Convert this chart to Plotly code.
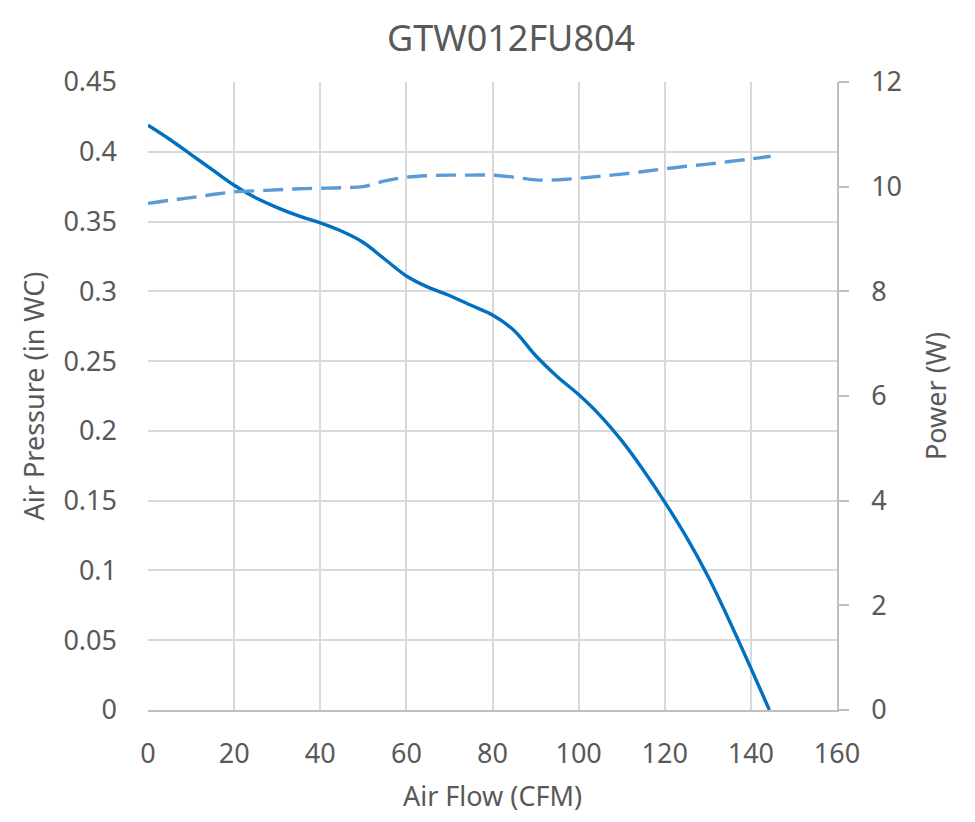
import plotly.graph_objects as go

title = "GTW012FU804"
flow_p = [0, 5, 10, 15, 20, 25, 30, 35, 40, 45, 50, 55, 60, 65, 70, 75, 80, 85, 90, 95, 100,
          105, 110, 115, 120, 125, 130, 135, 140, 144.3]
pressure = [0.419, 0.409, 0.398, 0.387, 0.376, 0.367, 0.360, 0.354, 0.349, 0.343, 0.335, 0.323,
            0.311, 0.303, 0.297, 0.290, 0.283, 0.272, 0.254, 0.239, 0.226, 0.211, 0.193, 0.172,
            0.149, 0.124, 0.096, 0.064, 0.030, 0.0]
flow_w = [0, 5, 10, 15, 20, 25, 30, 35, 40, 45, 50, 55, 60, 65, 70, 75, 80, 85, 90, 95, 100,
          105, 110, 115, 120, 125, 130, 135, 140, 144.6]
power = [9.68, 9.74, 9.79, 9.85, 9.90, 9.92, 9.94, 9.96, 9.97, 9.98, 10.00, 10.11, 10.18, 10.21,
         10.22, 10.22, 10.22, 10.18, 10.13, 10.13, 10.16, 10.20, 10.24, 10.29, 10.34, 10.39,
         10.43, 10.48, 10.53, 10.58]

x_ticks = [0, 20, 40, 60, 80, 100, 120, 140, 160]
p_ticks = [0, 0.05, 0.1, 0.15, 0.2, 0.25, 0.3, 0.35, 0.4, 0.45]
p_labels = ["0", "0.05", "0.1", "0.15", "0.2", "0.25", "0.3", "0.35", "0.4", "0.45"]
w_ticks = [0, 2, 4, 6, 8, 10, 12]

FONT = "Noto Sans, sans-serif"
TXT = "#595959"
GRID = "#d9d9d9"
TICK_SIZE = 27
AX_TITLE = 27

fig = go.Figure()
fig.add_trace(go.Scatter(x=flow_p, y=pressure, mode="lines",
                         line=dict(color="#0070c0", width=3.4, shape="spline"),
                         name="Air Pressure", yaxis="y"))
fig.add_trace(go.Scatter(x=flow_w, y=power, mode="lines",
                         line=dict(color="#5b9bd5", width=3.4, shape="spline", dash="20px,9px"),
                         name="Power", yaxis="y2"))

fig.update_layout(
    width=975, height=822,
    margin=dict(l=140, r=146, t=74, b=120),
    paper_bgcolor="white", plot_bgcolor="white",
    showlegend=False,
    font=dict(family=FONT, color=TXT, size=TICK_SIZE),
    title=dict(text=title, xref="container", x=0.516, xanchor="center", y=0.9635, yanchor="middle",
               font=dict(size=36, color=TXT, family=FONT)),
    xaxis=dict(range=[0, 160], tickvals=x_ticks, showgrid=True, gridcolor=GRID, gridwidth=1.5,
               showline=True, linecolor="#bfbfbf", linewidth=1.5, zeroline=False,
               ticks="", ticklabelstandoff=19, tickfont=dict(size=TICK_SIZE, color=TXT),
               title=dict(text="Air Flow (CFM)", font=dict(size=AX_TITLE, color=TXT), standoff=17)),
    yaxis=dict(range=[0, 0.45], tickvals=p_ticks, ticktext=p_labels, showgrid=True, gridcolor=GRID,
               gridwidth=1.5, showline=False, zeroline=False, ticks="", ticklabelstandoff=30,
               tickfont=dict(size=TICK_SIZE, color=TXT),
               title=dict(text="Air Pressure (in WC)", font=dict(size=AX_TITLE, color=TXT), standoff=10)),
    yaxis2=dict(range=[0, 12], tickvals=w_ticks, overlaying="y", side="right", showgrid=False,
                showline=True, linecolor="#bfbfbf", linewidth=1.5, zeroline=False,
                ticks="outside", ticklen=10, tickcolor="#bfbfbf", tickwidth=1.5,
                ticklabelstandoff=17, tickfont=dict(size=TICK_SIZE, color=TXT),
                title=dict(text="Power (W)", font=dict(size=AX_TITLE, color=TXT), standoff=26)),
)

fig.add_shape(type="rect", xref="paper", yref="paper", x0=-0.2046, x1=1.19, y0=-0.2, y1=1.1226,
              line=dict(color="#d9d9d9", width=1.5), fillcolor="rgba(0,0,0,0)", layer="below")

fig.write_html("out.html")
